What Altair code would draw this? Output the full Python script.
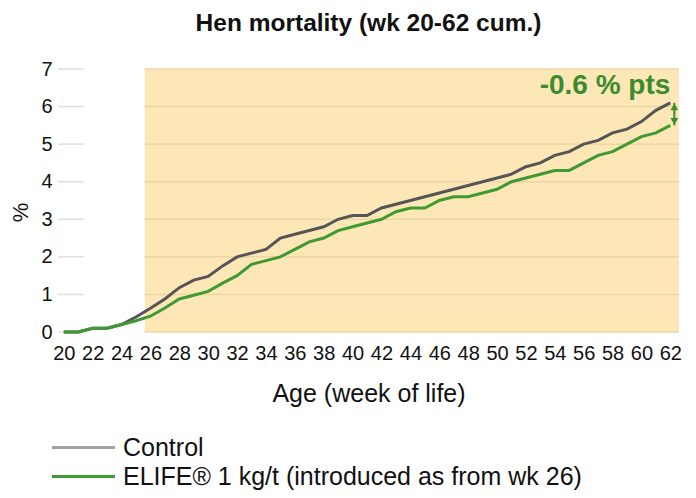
import altair as alt
import pandas as pd

weeks = list(range(20, 63))
control = [0, 0, 0.1, 0.1, 0.2, 0.4, 0.63, 0.88, 1.18, 1.38, 1.48, 1.76, 2.0, 2.1, 2.2, 2.5, 2.6, 2.7, 2.8,
           3.0, 3.1, 3.1, 3.3, 3.4, 3.5, 3.6, 3.7, 3.8, 3.9, 4.0, 4.1, 4.2, 4.4, 4.5, 4.7, 4.8,
           5.0, 5.1, 5.3, 5.4, 5.6, 5.9, 6.1]
elife = [0, 0, 0.1, 0.1, 0.2, 0.3, 0.42, 0.64, 0.88, 0.98, 1.08, 1.3, 1.5, 1.8, 1.9, 2.0, 2.2, 2.4, 2.5,
         2.7, 2.8, 2.9, 3.0, 3.2, 3.3, 3.3, 3.5, 3.6, 3.6, 3.7, 3.8, 4.0, 4.1, 4.2, 4.3, 4.3,
         4.5, 4.7, 4.8, 5.0, 5.2, 5.3, 5.5]
series_names = ["Control", "ELIFE® 1 kg/t (introduced as from wk 26)"]
x_ticks = list(range(20, 63, 2))
y_ticks = list(range(0, 8))
shade_start = 25.6
shade_end = 62.6
x_min = 19.6
y_max = 7
annotation = "-0.6 % pts"

FONT = "Liberation Sans"
GREEN = "#3f9a33"
GREEN_TXT = "#3b8c30"
GRAY = "#555555"

rows = []
for w, c, e in zip(weeks, control, elife):
    rows.append({"week": w, "series": series_names[0], "value": c})
    rows.append({"week": w, "series": series_names[1], "value": e})
df = pd.DataFrame(rows)

shade_df = pd.DataFrame([{"x": shade_start, "x2": shade_end, "y": 0, "y2": y_max}])
grid_df = pd.DataFrame({"v": y_ticks})
end_df = pd.DataFrame([{"week": weeks[-1], "top": control[-1], "bottom": elife[-1],
                        "label": annotation}])

xscale = alt.Scale(domain=[x_min, shade_end], nice=False, zero=False)
yscale = alt.Scale(domain=[0, y_max], nice=False)

X_AXIS = alt.Axis(values=x_ticks, title="Age (week of life)", grid=False,
                  domain=False, ticks=False, labelFont=FONT, labelFontSize=20,
                  labelColor="#111", labelPadding=11, labelFlush=False,
                  labelOverlap=False,
                  titleFont=FONT, titleFontSize=25, titleFontWeight="normal",
                  titleColor="#111", titlePadding=18)
Y_AXIS = alt.Axis(values=y_ticks, title="%", grid=False, domain=False, ticks=False,
                  labelFont=FONT, labelFontSize=20, labelColor="#111", labelPadding=6,
                  labelOverlap=False,
                  titleFont=FONT, titleFontSize=22, titleFontWeight="normal",
                  titleColor="#111", titleAngle=270, titleAlign="center",
                  titleBaseline="middle", titleX=-38, titleY=143)


def X(field):
    return alt.X(field, scale=xscale, axis=X_AXIS)


def Y(field):
    return alt.Y(field, scale=yscale, axis=Y_AXIS)


shade = alt.Chart(shade_df).mark_rect(color="#fde7b6").encode(
    x=X("x:Q"), x2="x2:Q", y=Y("y:Q"), y2="y2:Q",
)

grid_white = alt.Chart(grid_df).mark_rule(color="#dedede", strokeWidth=1.5).encode(
    y=Y("v:Q"),
    x=alt.value(0),
    x2=alt.X2(datum=shade_start),
)
grid_shade = alt.Chart(grid_df).mark_rule(color="#ecd6a6", strokeWidth=1.5).encode(
    y=Y("v:Q"),
    x=alt.X(datum=shade_start, scale=xscale, axis=X_AXIS),
    x2=alt.X2(datum=shade_end),
)

line_control = alt.Chart(df).transform_filter(
    alt.datum.series == series_names[0]
).mark_line(strokeWidth=3, color=GRAY).encode(x=X("week:Q"), y=Y("value:Q"))

line_elife = alt.Chart(df).transform_filter(
    alt.datum.series == series_names[1]
).mark_line(strokeWidth=3, color=GREEN).encode(x=X("week:Q"), y=Y("value:Q"))

legend_layer = alt.Chart(df).transform_filter("datum.week < 0").mark_line(strokeWidth=3).encode(
    x=X("week:Q"),
    y=Y("value:Q"),
    color=alt.Color("series:N", scale=alt.Scale(domain=series_names, range=["#a3a3a3", GREEN]),
                    legend=alt.Legend(title=None, orient="none", legendX=13, legendY=366,
                                      symbolType="M-3,0H3", symbolSize=441, symbolStrokeWidth=3,
                                      symbolOpacity=1,
                                      labelFont=FONT, labelFontSize=25, labelColor="#111",
                                      labelOffset=27, rowPadding=3, labelLimit=700)),
)

arrow = alt.Chart(end_df).mark_rule(color=GREEN_TXT, strokeWidth=2, xOffset=4).encode(
    x=X("week:Q"), y=Y("top:Q"), y2="bottom:Q",
)
head_up = alt.Chart(end_df).mark_point(shape="triangle-up", filled=True, color=GREEN_TXT,
                                       size=60, opacity=1, xOffset=4, yOffset=4).encode(
    x=X("week:Q"), y=Y("top:Q"),
)
head_down = alt.Chart(end_df).mark_point(shape="triangle-down", filled=True, color=GREEN_TXT,
                                         size=60, opacity=1, xOffset=4, yOffset=-4).encode(
    x=X("week:Q"), y=Y("bottom:Q"),
)
label = alt.Chart(end_df).mark_text(align="right", baseline="alphabetic", dy=-9, dx=0,
                                    font=FONT, fontSize=28, fontWeight="bold",
                                    color=GREEN_TXT).encode(
    x=X("week:Q"), y=Y("top:Q"), text="label:N",
)

chart = alt.layer(shade, grid_white, grid_shade, line_control, line_elife, legend_layer,
                  arrow, head_up, head_down, label).properties(
    width=621,
    height=263,
    title=alt.TitleParams("Hen mortality (wk 20-62 cum.)", font=FONT, fontSize=24.5,
                          fontWeight="bold", color="#111", anchor="middle", offset=23),
    padding={"left": 50, "top": 61, "right": 9, "bottom": 164},
    autosize=alt.AutoSizeParams(type="none"),
).configure_view(stroke=None)

chart.save("out.html", embed_options={"renderer": "svg", "actions": False})
